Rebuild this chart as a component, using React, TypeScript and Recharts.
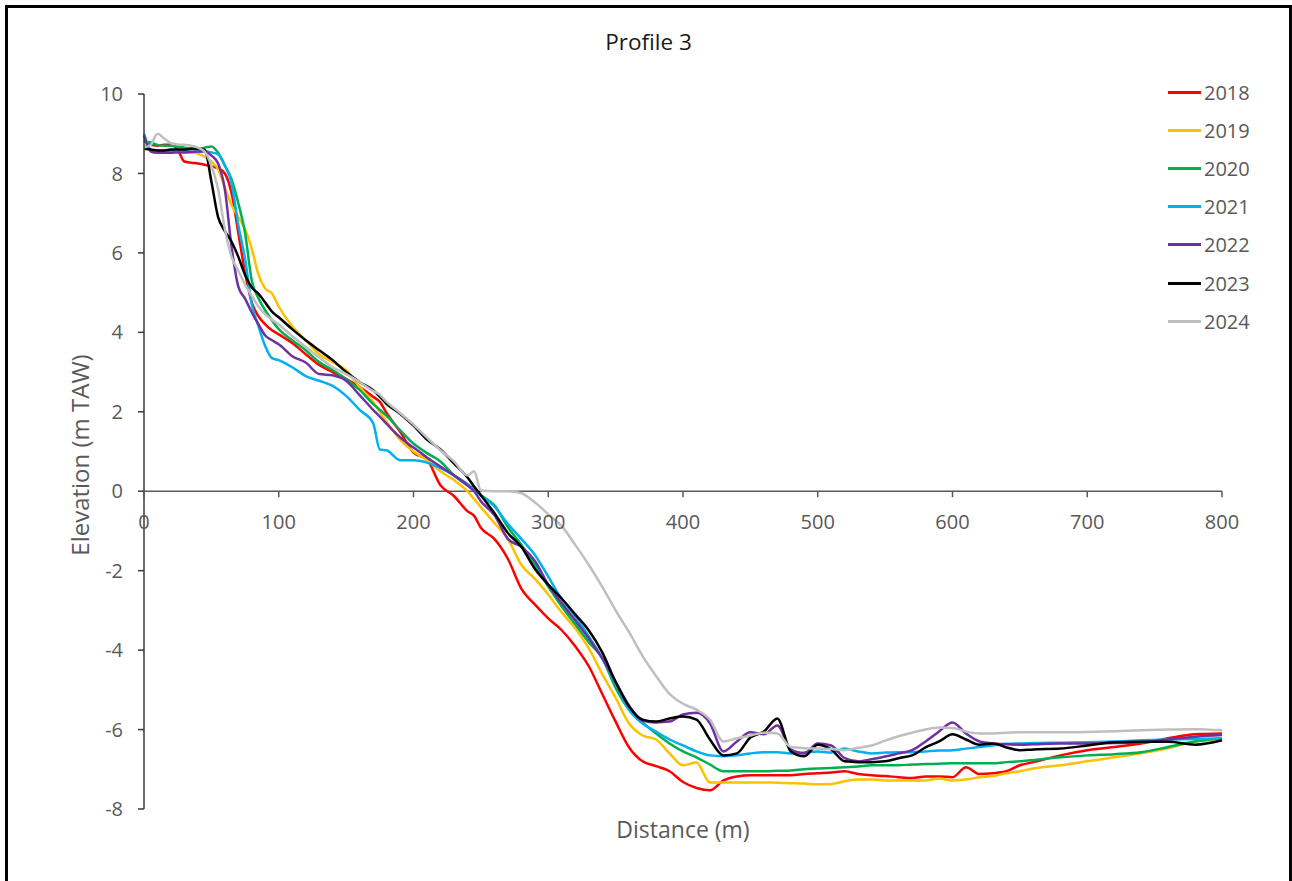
import { LineChart, Line, XAxis, YAxis, ReferenceLine, Legend } from "recharts"

// distance along the profile (m)
const distance = [
  0, 5, 10, 15, 20, 25, 30, 35, 40, 45,
  50, 55, 60, 65, 70, 75, 80, 85, 90, 95,
  100, 110, 120, 130, 140, 150, 160, 170, 175, 180,
  190, 200, 210, 220, 230, 240, 245, 250, 260, 270,
  280, 290, 300, 310, 320, 330, 340, 350, 360, 370,
  380, 390, 400, 410, 420, 430, 440, 450, 460, 470,
  480, 490, 500, 510, 520, 530, 540, 550, 560, 570,
  580, 590, 600, 610, 620, 630, 640, 650, 660, 680,
  700, 720, 740, 760, 780, 800,
]

const elev2018 = [
  8.85, 8.72, 8.7, 8.72, 8.72, 8.6, 8.3, 8.27, 8.25, 8.22,
  8.18, 8.13, 8.0, 7.5, 6.5, 5.5, 4.75, 4.4, 4.2, 4.05,
  3.95, 3.73, 3.45, 3.18, 3.0, 2.83, 2.62, 2.38, 2.25, 1.97,
  1.5, 0.97, 0.8, 0.15, -0.12, -0.5, -0.62, -0.92, -1.2, -1.7,
  -2.45, -2.85, -3.2, -3.5, -3.9, -4.4, -5.1, -5.8, -6.45, -6.8,
  -6.92, -7.05, -7.32, -7.47, -7.53, -7.28, -7.18, -7.15, -7.15, -7.15,
  -7.15, -7.12, -7.1, -7.08, -7.05, -7.12, -7.15, -7.17, -7.2, -7.22,
  -7.18, -7.18, -7.2, -6.95, -7.12, -7.1, -7.05, -6.9, -6.82, -6.65,
  -6.52, -6.44, -6.35, -6.22, -6.12, -6.1,
]

const elev2019 = [
  8.7, 8.6, 8.55, 8.55, 8.55, 8.55, 8.55, 8.53, 8.5, 8.42,
  8.3, 8.1, 7.65, 7.2, 6.9, 6.6, 6.1, 5.45, 5.1, 4.98,
  4.65, 4.15, 3.8, 3.45, 3.25, 3.05, 2.62, 2.25, 2.0, 1.75,
  1.3, 1.0, 0.78, 0.5, 0.28, 0.0, -0.2, -0.4, -0.8, -1.2,
  -1.85, -2.2, -2.6, -3.05, -3.45, -3.95, -4.6, -5.2, -5.85, -6.15,
  -6.25, -6.6, -6.9, -6.83, -7.33, -7.33, -7.33, -7.33, -7.33, -7.34,
  -7.35, -7.36, -7.38, -7.37, -7.3, -7.26, -7.26, -7.28, -7.28, -7.28,
  -7.28, -7.23, -7.28, -7.26, -7.2, -7.17, -7.1, -7.05, -6.98, -6.9,
  -6.8, -6.7, -6.6, -6.47, -6.3, -6.25,
]

const elev2020 = [
  8.8, 8.78, 8.72, 8.7, 8.7, 8.68, 8.65, 8.63, 8.62, 8.65,
  8.68, 8.52, 8.2, 7.85, 7.25, 6.5, 5.3, 4.85, 4.55, 4.3,
  4.08, 3.8, 3.55, 3.25, 3.05, 2.82, 2.55, 2.2, 2.05, 1.9,
  1.54, 1.2, 0.96, 0.75, 0.4, 0.15, 0.05, -0.1, -0.35, -0.9,
  -1.35, -1.85, -2.4, -2.9, -3.35, -3.8, -4.2, -4.95, -5.5, -5.82,
  -6.1, -6.35, -6.55, -6.7, -6.88, -7.05, -7.05, -7.05, -7.05, -7.04,
  -7.03, -7.0, -6.98, -6.97, -6.95, -6.93, -6.9, -6.9, -6.9, -6.88,
  -6.87, -6.86, -6.85, -6.85, -6.85, -6.85, -6.82, -6.8, -6.77, -6.7,
  -6.65, -6.62, -6.57, -6.44, -6.3, -6.22,
]

const elev2021 = [
  9.0, 8.6, 8.58, 8.57, 8.56, 8.56, 8.55, 8.55, 8.55, 8.55,
  8.53, 8.48, 8.2, 7.75, 6.7, 5.85, 4.7, 4.15, 3.65, 3.35,
  3.3, 3.12, 2.9, 2.78, 2.65, 2.4, 2.05, 1.72, 1.05, 1.03,
  0.78, 0.78, 0.72, 0.58, 0.4, 0.18, 0.05, -0.1, -0.38, -0.82,
  -1.2, -1.6, -2.15, -2.72, -3.15, -3.65, -4.2, -4.85, -5.5, -5.85,
  -6.05, -6.25, -6.4, -6.55, -6.65, -6.67, -6.65, -6.6, -6.57, -6.57,
  -6.6, -6.58, -6.55, -6.58, -6.48, -6.55, -6.6, -6.58, -6.57, -6.57,
  -6.55, -6.53, -6.52, -6.48, -6.44, -6.4, -6.36, -6.35, -6.34, -6.33,
  -6.32, -6.3, -6.27, -6.25, -6.24, -6.22,
]

const elev2022 = [
  8.95, 8.55, 8.52, 8.52, 8.52, 8.53, 8.53, 8.54, 8.55, 8.56,
  8.45, 8.25, 7.6, 6.15, 5.15, 4.85, 4.5, 4.2, 3.92, 3.8,
  3.7, 3.4, 3.24, 2.95, 2.92, 2.78, 2.42, 2.05, 1.88, 1.7,
  1.36, 1.1, 0.85, 0.62, 0.4, 0.15, 0.0, -0.25, -0.6, -1.2,
  -1.4, -1.75, -2.35, -2.82, -3.25, -3.7, -4.2, -4.8, -5.4, -5.78,
  -5.82, -5.8, -5.62, -5.58, -5.84, -6.55, -6.3, -6.07, -6.12, -5.9,
  -6.5, -6.6, -6.35, -6.4, -6.72, -6.8, -6.75, -6.68, -6.6, -6.52,
  -6.3, -6.05, -5.82, -6.1, -6.3, -6.35, -6.37, -6.38, -6.37, -6.35,
  -6.35, -6.34, -6.32, -6.25, -6.18, -6.14,
]

const elev2023 = [
  8.62, 8.6, 8.58, 8.58, 8.6, 8.6, 8.6, 8.62, 8.62, 8.6,
  7.8, 6.9, 6.55, 6.28, 5.9, 5.45, 5.13, 4.97, 4.75, 4.52,
  4.38, 4.08, 3.8, 3.55, 3.3, 3.0, 2.75, 2.54, 2.38, 2.2,
  1.95, 1.65, 1.3, 1.05, 0.7, 0.35, 0.12, -0.1, -0.55, -1.05,
  -1.4, -1.95, -2.35, -2.7, -3.1, -3.5, -4.05, -4.8, -5.42, -5.75,
  -5.8, -5.72, -5.67, -5.75, -6.25, -6.65, -6.6, -6.2, -6.05, -5.72,
  -6.55, -6.67, -6.38, -6.5, -6.8, -6.82, -6.82, -6.8, -6.72, -6.65,
  -6.45, -6.3, -6.12, -6.25, -6.38, -6.35, -6.45, -6.52, -6.5, -6.48,
  -6.4, -6.32, -6.31, -6.31, -6.38, -6.27,
]

const elev2024 = [
  8.65, 8.72, 9.0, 8.88, 8.76, 8.73, 8.72, 8.7, 8.65, 8.55,
  8.2, 7.6, 6.6, 5.9, 5.55, 5.2, 4.92, 4.65, 4.45, 4.32,
  4.2, 3.9, 3.63, 3.37, 3.12, 2.95, 2.75, 2.52, 2.43, 2.25,
  1.97, 1.68, 1.35, 1.03, 0.75, 0.4, 0.5, 0.02, 0.0, 0.0,
  -0.05, -0.28, -0.58, -0.88, -1.35, -1.85, -2.4, -3.0, -3.55, -4.15,
  -4.65, -5.1, -5.35, -5.5, -5.75, -6.3, -6.22, -6.15, -6.08, -6.1,
  -6.44, -6.47, -6.48, -6.49, -6.52, -6.46, -6.4, -6.28, -6.17, -6.08,
  -6.0, -5.95, -5.96, -6.05, -6.1, -6.1, -6.08, -6.07, -6.07, -6.07,
  -6.06, -6.04, -6.02, -6.0, -5.99, -6.02,
]

const years = ["2018", "2019", "2020", "2021", "2022", "2023", "2024"]
const colors = ["#FF0000", "#FFC000", "#00B050", "#00B0F0", "#7030A0", "#000000", "#BFBFBF"]
const series = [elev2018, elev2019, elev2020, elev2021, elev2022, elev2023, elev2024]

const xTicks = [0, 100, 200, 300, 400, 500, 600, 700, 800]
const yTicks = [-8, -6, -4, -2, 0, 2, 4, 6, 8, 10]

const rows = distance.map((d, i) => {
  const row: Record<string, number> = { d }
  years.forEach((y, k) => { row[y] = series[k][i] })
  return row
})

const FONT = "'Open Sans', sans-serif"
const TEXT = "#595959"
const AXIS = "#595959"

const W = 1281
const H = 873
const TOP = 86
const PLOT_H = 715
const ZERO_Y = TOP + PLOT_H * (10 / 18)

function DistanceTick({ x, payload }: any) {
  return (
    <g>
      <line x1={x} x2={x} y1={ZERO_Y} y2={ZERO_Y + 6} stroke={AXIS} strokeWidth={1.5} />
      <text x={x} y={ZERO_Y + 38} textAnchor="middle" fill={TEXT} fontSize={20} fontFamily={FONT}>
        {payload.value}
      </text>
    </g>
  )
}

function YearLegend() {
  return (
    <div style={{ fontFamily: FONT, fontSize: 20, color: TEXT }}>
      {years.map((y, i) => (
        <div key={y} style={{ display: "flex", alignItems: "center", height: 38.2 }}>
          <span style={{ display: "inline-block", width: 33, height: 3, background: colors[i], marginRight: 3 }} />
          <span>{y}</span>
        </div>
      ))}
    </div>
  )
}

export default function App() {
  return (
    <div
      style={{
        position: "fixed",
        left: 5,
        top: 5,
        width: 1287,
        height: 900,
        border: "3px solid #000",
        boxSizing: "border-box",
        background: "#fff",
      }}
    >
      <div style={{ position: "relative", width: W, height: H }}>
        <div
          style={{
            position: "absolute", left: 0, width: W, top: 18, textAlign: "center",
            fontFamily: FONT, fontSize: 22.5, color: "#1a1a1a", lineHeight: "32px",
          }}
        >
          Profile 3
        </div>
        <div
          style={{
            position: "absolute", left: 72 - 150, top: 447 - 16, width: 300, height: 32,
            textAlign: "center", transform: "rotate(-90deg)",
            fontFamily: FONT, fontSize: 24, color: TEXT, lineHeight: "32px",
          }}
        >
          Elevation (m TAW)
        </div>
        <div
          style={{
            position: "absolute", left: 136, width: 1078, top: 805, textAlign: "center",
            fontFamily: FONT, fontSize: 23, color: TEXT, lineHeight: "32px",
          }}
        >
          Distance (m)
        </div>
        <LineChart
          width={W}
          height={H}
          data={rows}
          margin={{ top: TOP, right: W - 1214, left: 0, bottom: H - TOP - PLOT_H - 40 }}
        >
          <XAxis
            dataKey="d"
            type="number"
            domain={[0, 800]}
            ticks={xTicks}
            height={40}
            axisLine={false}
            tickLine={false}
            tick={<DistanceTick />}
            interval={0}
          />
          <YAxis
            type="number"
            domain={[-8, 10]}
            ticks={yTicks}
            width={136}
            interval={0}
            tickSize={6}
            tickMargin={15}
            axisLine={{ stroke: "#3a3a3a", strokeWidth: 1.5 }}
            tickLine={{ stroke: "#3a3a3a", strokeWidth: 1.5 }}
            tick={{ fill: TEXT, fontSize: 20, fontFamily: FONT }}
          />
          <ReferenceLine y={0} stroke={AXIS} strokeWidth={1.5} />
          {years.map((y, i) => (
            <Line
              key={y}
              dataKey={y}
              type="monotone"
              stroke={colors[i]}
              strokeWidth={2.5}
              dot={false}
              isAnimationActive={false}
            />
          ))}
          <Legend
            layout="vertical"
            align="center"
            verticalAlign="middle"
            content={<YearLegend />}
            wrapperStyle={{ left: 1160, top: 65, width: 110 }}
          />
        </LineChart>
      </div>
    </div>
  )
}
